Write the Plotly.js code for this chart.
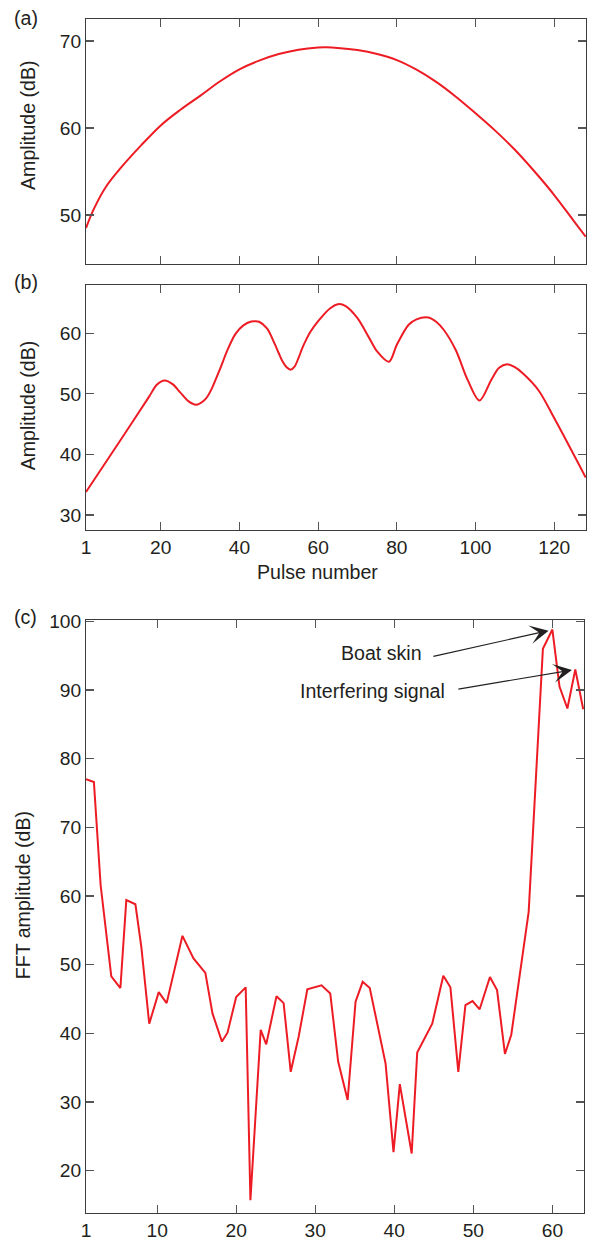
<!DOCTYPE html>
<html>
<head>
<meta charset="utf-8">
<script src="https://cdn.plot.ly/plotly-3.0.1.min.js"></script>
<style>
  html, body { margin: 0; padding: 0; background: #fff; }
  #chart { width: 592px; height: 1240px; }
</style>
</head>
<body>
<div id="chart"></div>
<script>
// Panel (a): single-target amplitude vs pulse number
const pulseA = [1, 3, 6, 10, 15, 20, 25, 30, 35, 40, 45, 50, 55, 60, 62, 65, 70, 75, 80, 85, 90, 95, 100, 105, 110, 115, 120, 125, 128];
const ampA   = [48.5, 50.7, 53.2, 55.5, 58.0, 60.3, 62.1, 63.7, 65.35, 66.75, 67.75, 68.5, 69.0, 69.25, 69.27, 69.21, 68.96, 68.5, 67.8, 66.7, 65.3, 63.6, 61.7, 59.7, 57.5, 55.0, 52.3, 49.3, 47.5];

// Panel (b): amplitude with interference vs pulse number
const pulseB = [1, 10, 17, 19, 21, 23, 25, 27, 29, 31, 32, 33, 35, 37, 39, 41, 43, 44, 45, 47, 49, 50, 51, 52, 53, 54, 55, 56, 57, 58, 60, 63, 65, 67, 70, 73, 75, 78, 80, 83, 85, 88, 90, 92, 95, 98, 101, 104, 106, 108, 110, 112, 116, 120, 128];
const ampB   = [33.8, 42.6, 49.5, 51.5, 52.2, 51.6, 50.2, 48.8, 48.2, 48.9, 49.7, 50.9, 54.0, 57.3, 59.9, 61.3, 61.95, 62.0, 61.9, 60.8, 58.2, 56.7, 55.3, 54.4, 54.0, 54.5, 55.9, 57.6, 59.0, 60.2, 62.0, 64.1, 64.8, 64.5, 62.5, 59.2, 57.0, 55.3, 58.1, 61.4, 62.3, 62.6, 61.9, 60.5, 57.2, 52.3, 48.9, 52.3, 54.3, 54.9, 54.4, 53.4, 50.6, 46.0, 36.2];

// Panel (c): FFT amplitude
const binC = [1, 2, 2.85, 4.2, 5.35, 6.1, 7.25, 8.0, 9.0, 10.2, 11.2, 13.2, 14.6, 16.1, 17.0, 18.2, 18.9, 20.0, 21.2, 21.8, 23.1, 23.8, 25.1, 26.0, 26.9, 27.9, 29.0, 30.8, 31.9, 32.9, 34.1, 35.1, 36.0, 36.9, 38.9, 39.9, 40.7, 42.2, 42.9, 44.8, 46.2, 47.1, 48.1, 49.0, 49.9, 50.8, 52.1, 53.0, 54.0, 54.8, 57.0, 58.8, 60.0, 60.9, 61.9, 62.9, 63.9];
const fftC = [77.0, 76.6, 61.6, 48.3, 46.6, 59.4, 58.8, 52.6, 41.4, 46.0, 44.4, 54.2, 50.9, 48.8, 42.9, 38.8, 40.1, 45.3, 46.7, 15.7, 40.5, 38.4, 45.4, 44.4, 34.4, 39.5, 46.4, 47.0, 45.8, 35.9, 30.3, 44.6, 47.5, 46.6, 35.6, 22.7, 32.6, 22.5, 37.2, 41.4, 48.4, 46.7, 34.4, 44.1, 44.7, 43.5, 48.2, 46.3, 37.0, 39.8, 57.7, 96.0, 98.8, 90.5, 87.3, 93.0, 87.2];

// Tick labels
const ticksAB = [1, 20, 40, 60, 80, 100, 120];
const ticksC  = [1, 10, 20, 30, 40, 50, 60];
const yTicksA = [50, 60, 70];
const yTicksB = [30, 40, 50, 60];
const yTicksC = [20, 30, 40, 50, 60, 70, 80, 90, 100];

const RED = '#ed1c24';
const INK = '#231f20';
const FONT = 'Liberation Sans, Arial, Helvetica, sans-serif';
const FS = 19.2;   // tick labels
const TS = 19.6;   // titles / notes

function axisBase() {
  return {
    showline: true, mirror: 'allticks', linecolor: '#3c3c3c', linewidth: 1,
    ticks: 'inside', ticklen: 8, tickwidth: 1.2, tickcolor: '#555',
    showgrid: false, zeroline: false, fixedrange: true,
    tickfont: {family: FONT, size: FS, color: INK}
  };
}

const traces = [
  {x: pulseA, y: ampA, xaxis: 'x', yaxis: 'y', type: 'scatter', mode: 'lines',
   line: {color: RED, width: 2, shape: 'spline', smoothing: 1}, name: 'Amplitude (a)'},
  {x: pulseB, y: ampB, xaxis: 'x2', yaxis: 'y2', type: 'scatter', mode: 'lines',
   line: {color: RED, width: 2, shape: 'spline', smoothing: 0.9}, name: 'Amplitude (b)'},
  {x: binC, y: fftC, xaxis: 'x3', yaxis: 'y3', type: 'scatter', mode: 'lines',
   line: {color: RED, width: 2}, name: 'FFT amplitude'}
];

const W = 592, H = 1240;
const px = v => v / W;
const py = v => 1 - v / H;

const layout = {
  width: W, height: H,
  margin: {l: 0, r: 0, t: 0, b: 0},
  paper_bgcolor: '#fff', plot_bgcolor: '#fff',
  showlegend: false,
  font: {family: FONT, size: FS, color: INK},
  xaxis: Object.assign(axisBase(), {domain: [px(86), px(586)], range: [1, 128.08], tickvals: ticksAB, showticklabels: false, anchor: 'y'}),
  yaxis: Object.assign(axisBase(), {domain: [py(264), py(19)], range: [44.37, 72.53], tickvals: yTicksA, anchor: 'x'}),
  xaxis2: Object.assign(axisBase(), {domain: [px(86), px(586)], range: [1, 128.08], tickvals: ticksAB, anchor: 'y2'}),
  yaxis2: Object.assign(axisBase(), {domain: [py(530), py(285)], range: [27.53, 67.97], tickvals: yTicksB, anchor: 'x2'}),
  xaxis3: Object.assign(axisBase(), {domain: [px(86), px(584)], range: [1, 64], tickvals: ticksC, anchor: 'y3'}),
  yaxis3: Object.assign(axisBase(), {domain: [py(1213), py(620)], range: [13.84, 100.19], tickvals: yTicksC, anchor: 'x3'}),
  annotations: [
    {xref: 'paper', yref: 'paper', x: px(12), y: py(17.5), text: '(a)', showarrow: false, xanchor: 'left', yanchor: 'middle', font: {size: TS, color: INK}},
    {xref: 'paper', yref: 'paper', x: px(12), y: py(281.5), text: '(b)', showarrow: false, xanchor: 'left', yanchor: 'middle', font: {size: TS, color: INK}},
    {xref: 'paper', yref: 'paper', x: px(12), y: py(616.5), text: '(c)', showarrow: false, xanchor: 'left', yanchor: 'middle', font: {size: TS, color: INK}},
    {xref: 'paper', yref: 'paper', x: px(28), y: py(125), text: 'Amplitude (dB)', textangle: -90, showarrow: false, xanchor: 'center', yanchor: 'middle', font: {size: TS, color: INK}},
    {xref: 'paper', yref: 'paper', x: px(28.3), y: py(405), text: 'Amplitude (dB)', textangle: -90, showarrow: false, xanchor: 'center', yanchor: 'middle', font: {size: TS, color: INK}},
    {xref: 'paper', yref: 'paper', x: px(23.3), y: py(895), text: 'FFT amplitude (dB)', textangle: -90, showarrow: false, xanchor: 'center', yanchor: 'middle', font: {size: TS, color: INK}},
    {xref: 'paper', yref: 'paper', x: px(317.3), y: py(572), text: 'Pulse number', showarrow: false, xanchor: 'center', yanchor: 'middle', font: {size: TS, color: INK}},
    // Arrow labels
    {xref: 'x3', yref: 'y3', x: 43.7, y: 95.4, text: 'Boat skin', showarrow: false, xanchor: 'right', yanchor: 'middle', font: {size: TS, color: INK}},
    {xref: 'x3', yref: 'y3', x: 46.66, y: 89.8, text: 'Interfering signal', showarrow: false, xanchor: 'right', yanchor: 'middle', font: {size: TS, color: INK}},
    // Arrows
    {xref: 'x3', yref: 'y3', axref: 'x3', ayref: 'y3', x: 59.52, y: 98.64, ax: 44.76, ay: 94.85, text: '', showarrow: true,
     arrowhead: 3, arrowsize: 2.6, arrowwidth: 1.2, arrowcolor: INK},
    {xref: 'x3', yref: 'y3', axref: 'x3', ayref: 'y3', x: 62.48, y: 92.9, ax: 47.92, ay: 90.1, text: '', showarrow: true,
     arrowhead: 3, arrowsize: 2.6, arrowwidth: 1.2, arrowcolor: INK}
  ]
};

Plotly.newPlot('chart', traces, layout, {staticPlot: true, displayModeBar: false});
</script>
</body>
</html>
